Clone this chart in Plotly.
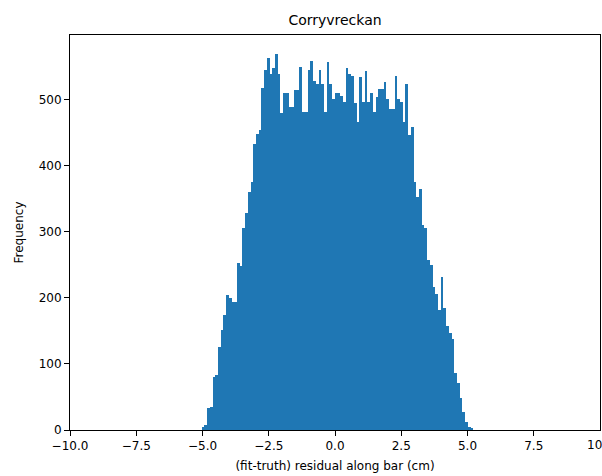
import numpy as np
import plotly.graph_objects as go

# Histogram of residuals: 100 equal-width bins
bin_start = -5.03
bin_end = 5.22
counts = [
    4, 8, 33, 35, 80, 83, 126, 151, 174, 204,
    200, 194, 194, 253, 248, 305, 328, 360, 375, 433,
    448, 454, 518, 544, 562, 539, 548, 569, 539, 480,
    509, 510, 489, 489, 515, 515, 549, 481, 481, 544,
    558, 528, 524, 544, 524, 481, 556, 524, 501, 510,
    510, 505, 496, 547, 539, 536, 494, 466, 534, 496,
    543, 496, 510, 481, 503, 516, 516, 527, 501, 485,
    485, 536, 501, 496, 466, 524, 446, 458, 375, 352,
    365, 310, 305, 257, 250, 216, 205, 181, 232, 185,
    158, 146, 138, 86, 71, 48, 27, 12, 4, 2,
]

x_ticks = [-10.0, -7.5, -5.0, -2.5, 0.0, 2.5, 5.0, 7.5, 10.0]
x_tick_labels = ["\u221210.0", "\u22127.5", "\u22125.0", "\u22122.5", "0.0", "2.5", "5.0", "7.5", "10.0"]
y_ticks = [0, 100, 200, 300, 400, 500]
y_tick_labels = ["0", "100", "200", "300", "400", "500"]

edges = np.linspace(bin_start, bin_end, len(counts) + 1)
centers = (edges[:-1] + edges[1:]) / 2
width = edges[1] - edges[0]

fig = go.Figure()
fig.add_trace(go.Bar(
    x=centers, y=counts, width=width,
    marker=dict(color="#1f77b4", line=dict(width=0)),
    showlegend=False,
))

font = "DejaVu Sans, sans-serif"
fig.update_layout(
    width=602, height=476,
    margin=dict(l=70, r=2, t=35, b=46),
    paper_bgcolor="white", plot_bgcolor="white",
    bargap=0,
    font=dict(family=font, size=12, color="black"),
    title=dict(text="Corryvreckan", x=0.5, xanchor="center", y=1 - 20 / 476, yanchor="middle",
               xref="paper", font=dict(family=font, size=14, color="black")),
)
fig.update_xaxes(
    range=[-10, 10], tickvals=x_ticks[:-1], ticktext=x_tick_labels[:-1],
    ticks="outside", ticklen=5, tickwidth=1, tickcolor="black",
    showline=True, linecolor="black", linewidth=1, mirror=True,
    showgrid=False, zeroline=False,
    tickfont=dict(size=12),
    title=dict(text="(fit-truth) residual along bar (cm)", standoff=9, font=dict(size=12)),
)
# last x tick label overflows the right edge (clipped as in the reference)
fig.add_annotation(
    x=x_ticks[-1], xref="x", y=0, yref="paper", yanchor="top", yshift=-6,
    text=x_tick_labels[-1], showarrow=False, font=dict(family=font, size=12, color="black"),
)
fig.update_yaxes(
    range=[0, max(counts) * 1.05], tickvals=y_ticks, ticktext=y_tick_labels,
    ticks="outside", ticklen=5, tickwidth=1, tickcolor="black",
    showline=True, linecolor="black", linewidth=1, mirror=True,
    showgrid=False, zeroline=False,
    tickfont=dict(size=12),
    title=dict(text="Frequency", standoff=12, font=dict(size=12)),
)

fig.write_html("out.html")
